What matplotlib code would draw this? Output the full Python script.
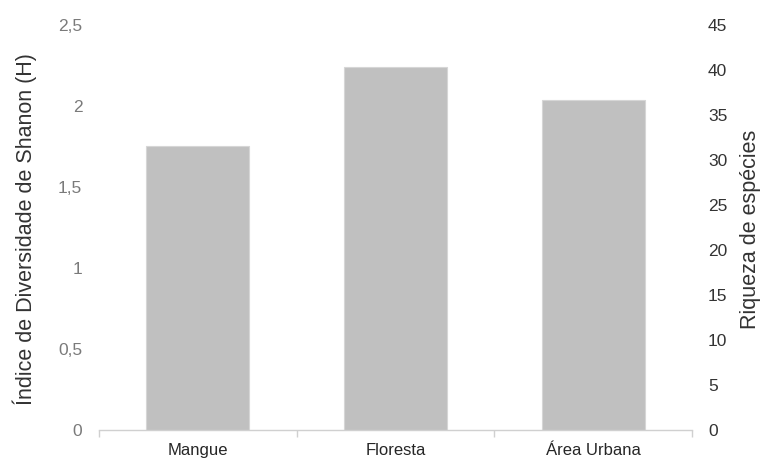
import numpy as np
import matplotlib.pyplot as plt

plt.rcParams['font.family'] = ['Liberation Sans', 'DejaVu Sans']

# Diversidade por ambiente
ambientes = ['Mangue', 'Floresta', 'Área Urbana']
shannon = [1.75, 2.24, 2.04]
ticks_h = [0, 0.5, 1, 1.5, 2, 2.5]
ticks_h_lab = ['0', '0,5', '1', '1,5', '2', '2,5']
ticks_riq = [0, 5, 10, 15, 20, 25, 30, 35, 40, 45]

fig = plt.figure(figsize=(7.63, 4.61), dpi=100)
ax = fig.add_axes([0.1297, 0.0672, 0.7773, 0.8786])

x = np.arange(len(ambientes))
ax.bar(x, shannon, width=0.52, color='#c0c0c0', edgecolor='#d6d6d6', linewidth=0.8)

ax.set_xlim(-0.5, 2.5)
ax.set_ylim(0, 2.5)
ax.set_yticks(ticks_h)
ax.set_yticklabels(ticks_h_lab)
ax.set_xticks(x)
ax.set_xticklabels(ambientes)
ax.set_xticks([-0.5, 0.5, 1.5, 2.5], minor=True)
ax.tick_params(axis='x', which='major', length=0, pad=9, labelsize=12, labelcolor='#262626')
ax.tick_params(axis='x', which='minor', length=5, color='#d0d0d0', width=1)
ax.tick_params(axis='y', length=0, pad=12, labelsize=12.5, labelcolor='#7a7a7a')
for s in ['top', 'right', 'left']:
    ax.spines[s].set_visible(False)
ax.spines['bottom'].set_color('#d0d0d0')
ax.spines['bottom'].set_linewidth(1)
ax.set_ylabel('Índice de Diversidade de Shanon (H)', fontsize=15.5, color='#333333', va='center')
ax.yaxis.set_label_coords(-0.125, 0.495)

ax2 = ax.twinx()
ax2.set_ylim(0, 45)
ax2.set_yticks(ticks_riq)
for s in ['top', 'right', 'left', 'bottom']:
    ax2.spines[s].set_visible(False)
ax2.tick_params(axis='y', length=0, pad=11.5, labelsize=12.5, labelcolor='#333333')
ax2.set_ylabel('Riqueza de espécies', fontsize=15.5, color='#333333', va='center')
ax2.yaxis.set_label_coords(1.098, 0.495)

fig.savefig('out.png', dpi=100)
